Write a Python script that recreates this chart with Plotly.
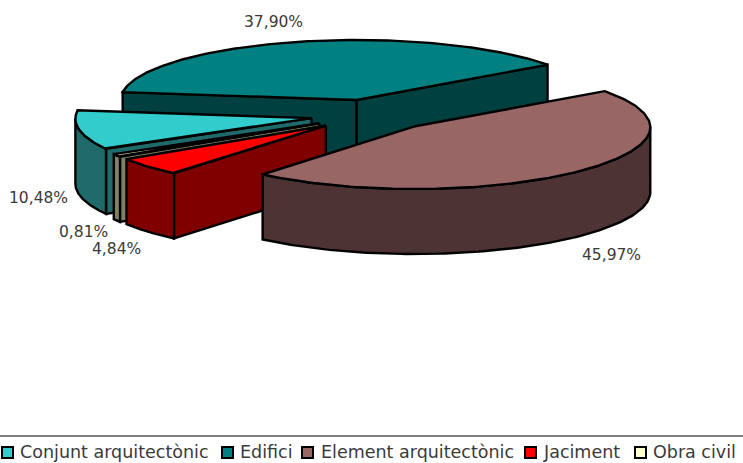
import numpy as np
import plotly.graph_objects as go

# ---- data ----
categories = ["Conjunt arquitectònic", "Edifici", "Element arquitectònic", "Jaciment", "Obra civil"]
values = [10.48, 37.90, 45.97, 4.84, 0.81]
value_labels = ["10,48%", "37,90%", "45,97%", "4,84%", "0,81%"]
top_colors = ["#33CCCC", "#008080", "#996666", "#FF0000", "#FFFFCC"]
side_colors = ["#1F6B6B", "#004040", "#4D3333", "#800000", "#808066"]

# ---- layout constants ----
W, H = 743, 463
A_PX, B_PX = 236.0, 60.0      # pie radii in pixels
CX, CY = 371.7, 115.1         # un-exploded pie centre in pixels
DEPTH = 65.0 / B_PX           # wall height in y units
EXPLODE = 0.26
PERSPECTIVE_X, PERSPECTIVE_Y = 0.01, 0.03   # front of the pie is drawn slightly larger
FIRST_ANGLE = 36.0 + 37.90 / 100 * 360 + 10.48 / 100 * 360  # start of first slice, clockwise
DRAW_ORDER = [1, 0, 4, 3, 2]
TEXT = "#3A3A3A"
FONT = "DejaVu Sans"

# slices, clockwise
total = sum(values)
spans = [v / total * 360 for v in values]
slices = []
cur = FIRST_ANGLE
for s in spans:
    slices.append((cur, cur - s))
    cur -= s

fig = go.Figure()


def project(u, v):
    u, v = np.asarray(u, float), np.asarray(v, float)
    front = np.minimum(v, 0)
    return u * (1 - PERSPECTIVE_X * front), v * (1 - PERSPECTIVE_Y * front)


def add_poly(x, y, fill, width=2.4):
    fig.add_trace(go.Scatter(x=x, y=y, mode="lines", fill="toself", fillcolor=fill,
                             line=dict(color="black", width=width, shape="linear"),
                             hoverinfo="skip", showlegend=False))


for i in DRAW_ORDER:
    t0, t1 = slices[i]                      # t0 > t1 (clockwise)
    mid = np.radians((t0 + t1) / 2)
    ox, oy = EXPLODE * np.cos(mid), EXPLODE * np.sin(mid)
    # radial cut faces
    for ang, normal in ((t0, t0 + 90), (t1, t1 - 90)):
        if np.sin(np.radians(normal)) < 0:
            s = np.linspace(0, 1, 30)
            u, v = project(ox + s * np.cos(np.radians(ang)), oy + s * np.sin(np.radians(ang)))
            add_poly(np.r_[u, u[::-1], u[0]], np.r_[v, v[::-1] - DEPTH, v[0]], side_colors[i])
    # outer wall (front part of the rim only)
    th = np.radians(np.linspace(t0, t1, 160))
    vis = th[np.sin(th) <= 0]
    if len(vis) > 1:
        rx, ry = project(ox + np.cos(vis), oy + np.sin(vis))
        add_poly(np.r_[rx, rx[::-1], rx[0]], np.r_[ry, ry[::-1] - DEPTH, ry[0]], side_colors[i])
    # top face
    s = np.linspace(0, 1, 30)
    u0, v0 = ox + s * np.cos(th[0]), oy + s * np.sin(th[0])
    u1, v1 = ox + s[::-1] * np.cos(th[-1]), oy + s[::-1] * np.sin(th[-1])
    u, v = project(np.r_[u0, ox + np.cos(th), u1], np.r_[v0, oy + np.sin(th), v1])
    add_poly(u, v, top_colors[i])


def px(x):
    return x / W


def py(y):
    return 1 - y / H


# value labels
label_pos = [(38, 198), (273, 22), (611, 255), (116, 249), (83, 232)]
annotations = []
for txt, (lx, ly) in zip(value_labels, label_pos):
    annotations.append(dict(x=px(lx), y=py(ly), xref="paper", yref="paper", text=txt, showarrow=False,
                            xanchor="center", yanchor="middle",
                            font=dict(family=FONT, size=15.5, color=TEXT)))

# legend
shapes = [dict(type="line", xref="paper", yref="paper", x0=0, x1=1, y0=py(436), y1=py(436),
               line=dict(color="black", width=1.2))]
swatch_x = [2, 222, 302, 525, 635]
text_x = [19, 239, 320, 542, 652]
for sx, tx, name, col in zip(swatch_x, text_x, categories, top_colors):
    shapes.append(dict(type="rect", xref="paper", yref="paper", x0=px(sx), x1=px(sx + 11),
                       y0=py(458), y1=py(447), fillcolor=col, line=dict(color="black", width=2)))
    annotations.append(dict(x=px(tx), y=py(452), xref="paper", yref="paper", text=name, showarrow=False,
                            xanchor="left", yanchor="middle", xshift=-1,
                            font=dict(family=FONT, size=17.5, color=TEXT)))

fig.update_layout(
    width=W, height=H, margin=dict(l=0, r=0, t=0, b=0),
    paper_bgcolor="white", plot_bgcolor="white", showlegend=False,
    xaxis=dict(visible=False, range=[-CX / A_PX, (W - CX) / A_PX], fixedrange=True),
    yaxis=dict(visible=False, range=[(CY - H) / B_PX, CY / B_PX], fixedrange=True),
    shapes=shapes, annotations=annotations,
)
fig.write_html("out.html", config=dict(displayModeBar=False),
               post_script="document.body.style.margin='0';document.body.style.overflow='hidden';")
